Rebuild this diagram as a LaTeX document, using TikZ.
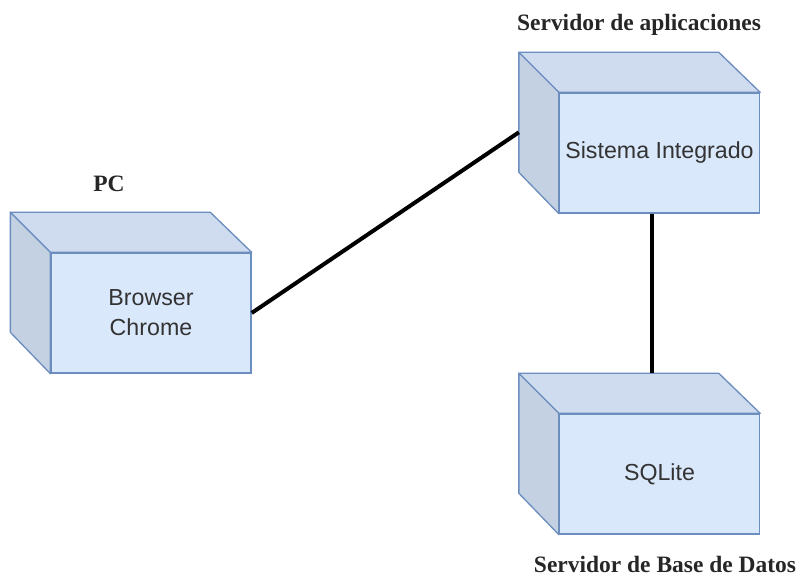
\documentclass[tikz,border=0pt]{standalone}
\usepackage{fontspec}
\setmainfont{Liberation Serif}
\setsansfont{Liberation Sans}
\usetikzlibrary{calc}
\definecolor{frontc}{HTML}{DAE8FC}
\definecolor{topc}{HTML}{CFDCF0}
\definecolor{sidec}{HTML}{C4D1E3}
\definecolor{edgec}{HTML}{6C8EBF}
\definecolor{txtc}{HTML}{333333}
\begin{document}
\begin{tikzpicture}[x=0.75pt,y=-0.75pt,
  front/.style={draw=edgec, fill=frontc, line width=1pt, minimum width=150pt, minimum height=90pt,
    inner sep=0pt, align=center, font=\sffamily\fontsize{17.4}{22.5}\selectfont, text=txtc},
  topface/.style={draw=edgec, fill=topc, line width=1pt, line join=round},
  sideface/.style={draw=edgec, fill=sidec, line width=1pt, line join=round},
  lbl/.style={font=\bfseries\fontsize{17.6}{21}\selectfont, text=black!85, anchor=base, inner sep=0pt},
  link/.style={line width=3pt, black}]
\useasboundingbox (0,0) rectangle (801,577);
\node[front] (pc) at (151,313) {Browser\\Chrome};
\node[front] (si) at (659.5,153) {Sistema Integrado};
\node[front] (sq) at (659.5,474) {SQLite};
\foreach \n in {pc,si,sq}{
  \draw[topface] (\n.north west) -- ++(-40,-40) -- ++(200,0) -- (\n.north east) -- cycle;
  \draw[sideface] (\n.north west) -- ++(-40,-40) -- ++(0,120) -- (\n.south west) -- cycle;
}
\node[lbl] (lpc) at (109,192) {PC};
\node[lbl] (lsa) at (639,31) {Servidor de aplicaciones};
\node[lbl] (lsb) at (665,573) {Servidor de Base de Datos};
\coordinate (siside) at ($(si.north west)+(-40,40)$);
\coordinate (sibot) at ($(si.south)+(-8,0)$);
\coordinate (sqtop) at ($(sq.north)+(-8,-40)$);
\draw[link] (pc.east) -- (siside);
\draw[link] (sibot) -- (sqtop);
\end{tikzpicture}
\end{document}
